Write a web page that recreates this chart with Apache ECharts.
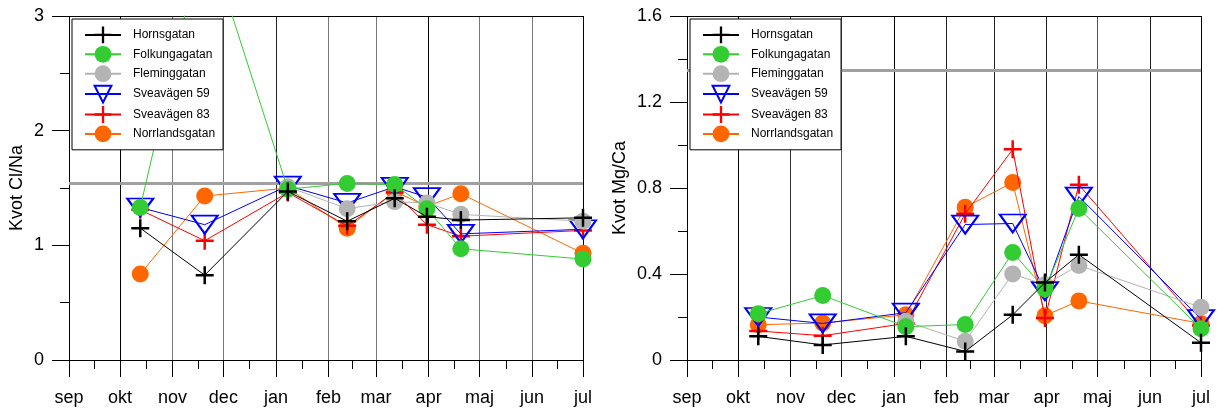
<!DOCTYPE html>
<html>
<head>
<meta charset="utf-8">
<script src="https://cdn.jsdelivr.net/npm/echarts@6/dist/echarts.min.js"></script>
<style>
html, body { margin: 0; padding: 0; background: #fff; }
#chart { width: 1217px; height: 410px; }
</style>
</head>
<body>
<div id="chart"></div>
<script>
// x is counted in days from 1 sep
var monthNames = ['sep', 'okt', 'nov', 'dec', 'jan', 'feb', 'mar', 'apr', 'maj', 'jun', 'jul'];
var monthStarts = [0, 30, 61, 91, 122, 153, 181, 212, 242, 273, 303];
var sampleDays = [42, 80, 129, 164, 192, 211, 231, 303];

var stations = ['Hornsgatan', 'Folkungagatan', 'Fleminggatan', 'Sveavägen 59', 'Sveavägen 83', 'Norrlandsgatan'];

// Kvot Cl/Na
var clNaHornsgatan = [1.15, 0.74, 1.47, 1.21, 1.41, 1.25, 1.22, 1.24];
var clNaFolkungagatan = [1.33, 3.75, 1.49, 1.54, 1.53, 1.32, 0.97, 0.88];
var clNaFleminggatan = [null, null, 1.51, 1.32, 1.38, 1.37, 1.27, 1.21];
var clNaSveavagen59 = [1.33, 1.18, 1.52, 1.37, 1.51, 1.42, 1.10, 1.14];
var clNaSveavagen83 = [1.31, 1.04, 1.46, 1.17, 1.46, 1.18, 1.08, 1.13];
var clNaNorrlandsgatan = [0.75, 1.43, 1.50, 1.15, 1.47, 1.34, 1.45, 0.93];
var clNaRef = 1.54;

// Kvot Mg/Ca
var mgCaHornsgatan = [0.11, 0.07, 0.11, 0.04, 0.21, 0.36, 0.49, 0.08];
var mgCaFolkungagatan = [0.215, 0.30, 0.155, 0.165, 0.50, 0.33, 0.705, 0.145];
var mgCaFleminggatan = [null, null, 0.18, 0.087, 0.40, 0.35, 0.44, 0.245];
var mgCaSveavagen59 = [0.20, 0.17, 0.22, 0.63, 0.635, 0.32, 0.76, 0.19];
var mgCaSveavagen83 = [0.135, 0.113, 0.17, 0.68, 0.98, 0.195, 0.815, 0.16];
var mgCaNorrlandsgatan = [0.164, 0.172, 0.21, 0.71, 0.826, 0.206, 0.275, 0.17];
var mgCaRef = 1.35;

var FONT = '"Liberation Sans", Arial, sans-serif';
var PLUS = 'path://M-1.25,-9H1.25V-1.25H9V1.25H1.25V9H-1.25V1.25H-9V-1.25H-1.25Z';

var looks = [
    { color: '#000000', symbol: PLUS, size: 18, z: 9 },
    { color: '#33cc33', symbol: 'circle', size: 17, z: 8 },
    { color: '#b4b4b4', symbol: 'circle', size: 17, z: 7 },
    { color: '#0000ff', symbol: 'triangle', size: [26, 18], rotate: 180, hollow: true, z: 6 },
    { color: '#ff0000', symbol: PLUS, size: 18, z: 5 },
    { color: '#ff6600', symbol: 'circle', size: 17, z: 4 }
];

var midMonths = [];
for (var m = 0; m < monthStarts.length - 1; m++) {
    midMonths.push((monthStarts[m] + monthStarts[m + 1]) / 2);
}

var panels = [
    {
        left: 69, max: 3, interval: 1, name: 'Kvot Cl/Na', nameGap: 43, ref: clNaRef,
        legendLeft: 72,
        lineColors: ['#000', '#000', '#777', '#777', '#222', '#777', '#777', '#000', '#777', '#777', '#000'],
        values: [clNaHornsgatan, clNaFolkungagatan, clNaFleminggatan, clNaSveavagen59, clNaSveavagen83, clNaNorrlandsgatan]
    },
    {
        left: 687, max: 1.6, interval: 0.4, name: 'Kvot Mg/Ca', nameGap: 58, ref: mgCaRef,
        legendLeft: 690,
        lineColors: ['#000', '#000', '#333', '#555', '#000', '#222', '#222', '#222', '#555', '#222', '#000'],
        values: [mgCaHornsgatan, mgCaFolkungagatan, mgCaFleminggatan, mgCaSveavagen59, mgCaSveavagen83, mgCaNorrlandsgatan]
    }
];

var option = {
    animation: false,
    backgroundColor: '#fff',
    textStyle: { fontFamily: FONT },
    grid: [],
    xAxis: [],
    yAxis: [],
    legend: [],
    series: []
};

panels.forEach(function (p, gi) {
    option.grid.push({ left: p.left, top: 16, width: 514, height: 344 });

    var xMain = option.xAxis.length;
    // month lines, ticks and labels
    option.xAxis.push({
        type: 'value', gridIndex: gi, position: 'bottom', min: 0, max: 303,
        axisLine: { show: true, onZero: false, lineStyle: { color: '#000', width: 1 } },
        axisTick: { show: true, customValues: monthStarts, length: 17, lineStyle: { color: '#000' } },
        axisLabel: {
            customValues: monthStarts, margin: 29, fontSize: 18, color: '#000', fontFamily: FONT,
            formatter: function (v) { return monthNames[monthStarts.indexOf(v)]; }
        },
        splitLine: { show: true, lineStyle: { color: p.lineColors, width: 1 } }
    });
    // mid-month ticks
    option.xAxis.push({
        type: 'value', gridIndex: gi, position: 'bottom', min: 0, max: 303,
        axisLine: { show: false },
        axisTick: { show: true, customValues: midMonths, length: 9, lineStyle: { color: '#000' } },
        axisLabel: { show: false },
        splitLine: { show: false }
    });
    // top frame line
    option.xAxis.push({
        type: 'value', gridIndex: gi, position: 'top', min: 0, max: 303,
        axisLine: { show: true, onZero: false, lineStyle: { color: '#000', width: 1 } },
        axisTick: { show: false }, axisLabel: { show: false }, splitLine: { show: false }
    });

    option.yAxis.push({
        type: 'value', gridIndex: gi, min: 0, max: p.max, interval: p.interval,
        name: p.name, nameLocation: 'middle', nameGap: p.nameGap,
        nameTextStyle: { fontSize: 18, color: '#000', fontFamily: FONT },
        axisLine: { show: false },
        axisTick: { show: true, length: 17, lineStyle: { color: '#000' } },
        minorTick: { show: true, splitNumber: 2, length: 9, lineStyle: { color: '#000' } },
        axisLabel: { margin: 25, fontSize: 18, color: '#000', fontFamily: FONT },
        splitLine: { show: false }
    });

    option.legend.push({
        left: p.legendLeft, top: 19, orient: 'vertical', z: 20,
        selectedMode: false,
        backgroundColor: '#fff', borderColor: '#000', borderWidth: 1,
        padding: [7.5, 8, 7.5, 12],
        itemWidth: 36, itemHeight: 21, itemGap: 2.6,
        textStyle: { fontSize: 12, color: '#000', fontFamily: FONT, padding: [0, 0, 0, 7] },
        data: stations
    });

    // reference level
    option.series.push({
        type: 'line', xAxisIndex: xMain, yAxisIndex: gi, data: [], z: 1, silent: true,
        markLine: {
            z: 1, silent: true, symbol: 'none', label: { show: false },
            lineStyle: { color: '#a0a0a0', width: 3, type: 'solid' },
            data: [{ yAxis: p.ref }]
        }
    });

    stations.forEach(function (name, si) {
        var look = looks[si];
        var pts = [];
        for (var i = 0; i < sampleDays.length; i++) {
            if (p.values[si][i] !== null) pts.push([sampleDays[i], p.values[si][i]]);
        }
        option.series.push({
            type: 'line', name: name, xAxisIndex: xMain, yAxisIndex: gi,
            data: pts, z: look.z,
            symbol: look.symbol, symbolSize: look.size, symbolRotate: look.rotate || 0,
            showAllSymbol: true,
            lineStyle: { color: look.color, width: 1 },
            itemStyle: look.hollow
                ? { color: 'rgba(0,0,0,0)', borderColor: look.color, borderWidth: 2 }
                : { color: look.color, borderWidth: 0 },
            emphasis: { disabled: true }
        });
    });
});

var chart = echarts.init(document.getElementById('chart'), null, { renderer: 'canvas' });
chart.setOption(option);
</script>
</body>
</html>
